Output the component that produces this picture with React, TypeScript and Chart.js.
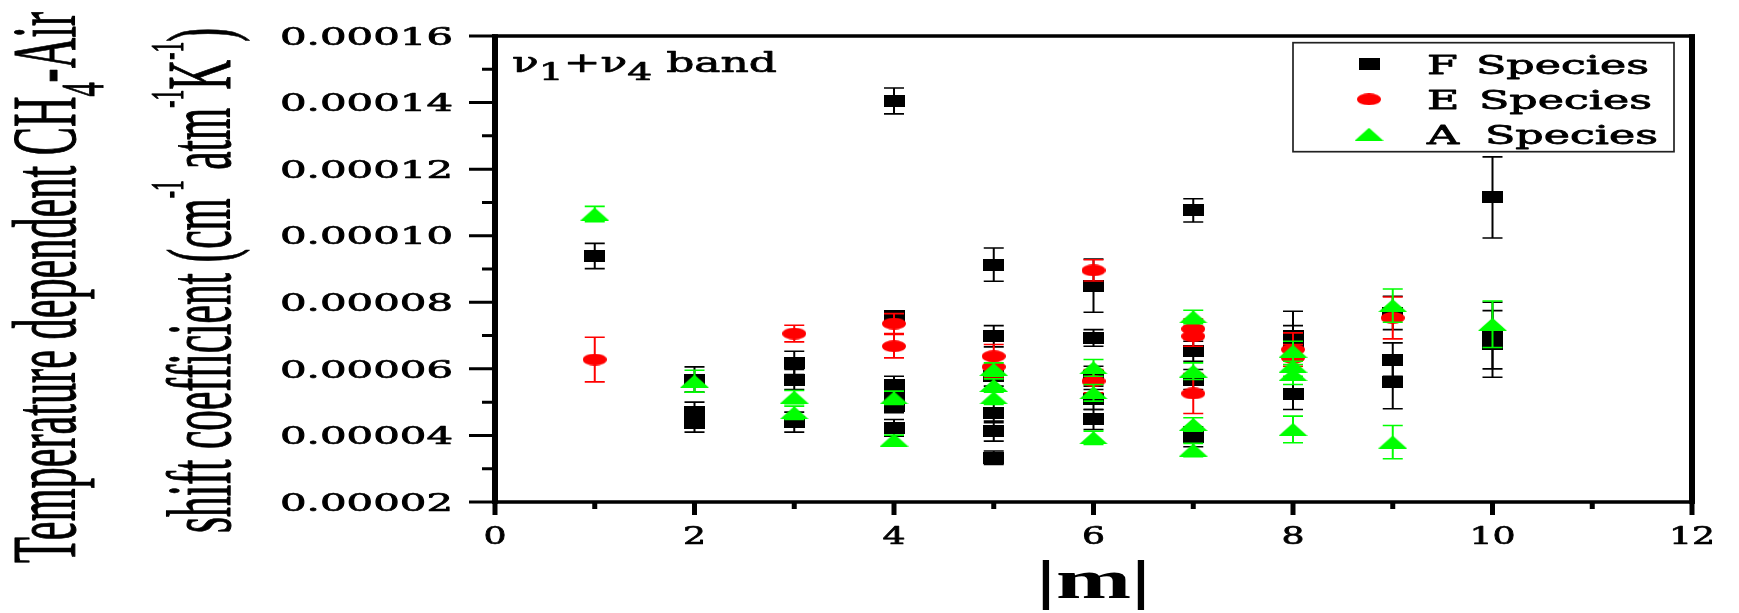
import React, { useEffect, useRef } from 'react';
import { Chart, registerables } from 'chart.js';

Chart.register(...registerables);

// ---------- data ----------
const seriesLabels = ['F Species', 'E Species', 'A Species'];

const fM = [1, 2, 2, 2, 3, 3, 3, 4, 4, 4, 4, 4, 4, 5, 5, 5, 5, 5, 5, 6, 6, 6, 6, 6, 7, 7, 7, 7, 8, 8, 8, 9, 9, 9, 10, 10, 10];
const fVal = [
  9.39e-5,
  5.68e-5, 4.70e-5, 4.36e-5,
  6.18e-5, 5.68e-5, 4.40e-5,
  14.05e-5, 7.58e-5, 5.53e-5, 5.18e-5, 4.88e-5, 4.23e-5,
  9.13e-5, 6.98e-5, 5.78e-5, 4.68e-5, 4.13e-5, 3.33e-5,
  8.50e-5, 6.93e-5, 5.78e-5, 5.08e-5, 4.48e-5,
  10.76e-5, 6.53e-5, 5.68e-5, 3.96e-5,
  6.98e-5, 6.80e-5, 5.23e-5,
  7.68e-5, 6.28e-5, 5.60e-5,
  11.15e-5, 7.00e-5, 6.75e-5,
];
const fErr = [
  0.38e-5,
  0.38e-5, 0.30e-5, 0.26e-5,
  0.35e-5, 0.30e-5, 0.30e-5,
  0.39e-5, 0.15e-5, 0.25e-5, 0.20e-5, 0.20e-5, 0.25e-5,
  0.50e-5, 0.32e-5, 0.30e-5, 0.30e-5, 0.30e-5, 0.20e-5,
  0.80e-5, 0.25e-5, 0.30e-5, 0.30e-5, 0.30e-5,
  0.35e-5, 0.30e-5, 0.30e-5, 0.30e-5,
  0.75e-5, 0.50e-5, 0.45e-5,
  0.50e-5, 0.50e-5, 0.80e-5,
  1.22e-5, 1.00e-5, 1.00e-5,
];

const eM = [1, 3, 4, 4, 5, 5, 6, 6, 7, 7, 7, 8, 8, 9];
const eVal = [
  6.28e-5,
  7.06e-5,
  7.36e-5, 6.68e-5,
  6.38e-5, 6.06e-5,
  8.96e-5, 5.63e-5,
  7.20e-5, 6.98e-5, 5.26e-5,
  6.58e-5, 6.33e-5,
  7.53e-5,
];
const eErr = [
  0.67e-5,
  0.25e-5,
  0.30e-5, 0.35e-5,
  0.35e-5, 0.30e-5,
  0.32e-5, 0.35e-5,
  0.30e-5, 0.30e-5, 0.60e-5,
  0.50e-5, 0.40e-5,
  0.63e-5,
];

const aM = [1, 2, 3, 3, 4, 4, 5, 5, 5, 6, 6, 6, 7, 7, 7, 7, 8, 8, 8, 8, 9, 9, 10];
const aVal = [
  10.65e-5,
  5.63e-5,
  5.15e-5, 4.68e-5,
  5.13e-5, 3.86e-5,
  5.98e-5, 5.50e-5, 5.13e-5,
  6.03e-5, 5.28e-5, 3.93e-5,
  7.56e-5, 5.93e-5, 4.33e-5, 3.56e-5,
  6.53e-5, 6.08e-5, 5.83e-5, 4.18e-5,
  7.90e-5, 3.80e-5,
  7.34e-5,
];
const aErr = [
  0.23e-5,
  0.33e-5,
  0.20e-5, 0.20e-5,
  0.20e-5, 0.15e-5,
  0.20e-5, 0.20e-5, 0.20e-5,
  0.25e-5, 0.25e-5, 0.20e-5,
  0.20e-5, 0.25e-5, 0.20e-5, 0.20e-5,
  0.30e-5, 0.30e-5, 0.30e-5, 0.40e-5,
  0.50e-5, 0.50e-5,
  0.70e-5,
];

const xTickValues = [0, 2, 4, 6, 8, 10, 12];
const xTickLabels = ['0', '2', '4', '6', '8', '10', '12'];
const xMinorValues = [1, 3, 5, 7, 9, 11];
const yTickValues = [2e-5, 4e-5, 6e-5, 8e-5, 10e-5, 12e-5, 14e-5, 16e-5];
const yTickLabels = ['0.00002', '0.00004', '0.00006', '0.00008', '0.00010', '0.00012', '0.00014', '0.00016'];
const yMinorValues = [3e-5, 5e-5, 7e-5, 9e-5, 11e-5, 13e-5, 15e-5];

const colors = ['#000000', '#ff0000', '#00ff00'];
const errArrays = [fErr, eErr, aErr];

// ---------- helpers ----------
type Run = { text: string; font: string; dy?: number };

function makeMarker(kind: string, color: string, w: number, h: number) {
  const c = document.createElement('canvas');
  c.width = w;
  c.height = h;
  const g = c.getContext('2d') as CanvasRenderingContext2D;
  g.fillStyle = color;
  if (kind === 'rect') {
    g.fillRect(0, 0, w, h);
  } else if (kind === 'ellipse') {
    g.beginPath();
    g.ellipse(w / 2, h / 2, w / 2, h / 2, 0, 0, Math.PI * 2);
    g.fill();
  } else {
    g.beginPath();
    g.moveTo(w / 2, 0);
    g.lineTo(w, h);
    g.lineTo(0, h);
    g.closePath();
    g.fill();
  }
  return c;
}

function drawRuns(
  ctx: CanvasRenderingContext2D,
  runs: Run[],
  x: number,
  y: number,
  length: number,
  rotate: boolean,
  stretchX: number,
  weight: number
) {
  let W = 0;
  const widths = runs.map((r) => {
    ctx.font = r.font;
    const w = ctx.measureText(r.text).width;
    W += w;
    return w;
  });
  ctx.save();
  ctx.translate(x, y);
  if (rotate) {
    ctx.scale(stretchX, 1);
    ctx.rotate(-Math.PI / 2);
  }
  ctx.scale(length / W, 1);
  ctx.textAlign = 'left';
  ctx.textBaseline = 'alphabetic';
  ctx.lineWidth = weight;
  ctx.lineJoin = 'round';
  let cx = 0;
  runs.forEach((r, i) => {
    ctx.font = r.font;
    ctx.fillText(r.text, cx, r.dy || 0);
    if (weight > 0) ctx.strokeText(r.text, cx, r.dy || 0);
    cx += widths[i];
  });
  ctx.restore();
}

function drawStretched(
  ctx: CanvasRenderingContext2D,
  text: string,
  font: string,
  x: number,
  y: number,
  sx: number,
  align: CanvasTextAlign,
  weight: number
) {
  ctx.save();
  ctx.font = font;
  ctx.translate(x, y);
  ctx.scale(sx, 1);
  ctx.textAlign = align;
  ctx.textBaseline = 'alphabetic';
  ctx.lineWidth = weight;
  ctx.lineJoin = 'round';
  ctx.fillText(text, 0, 0);
  if (weight > 0) ctx.strokeText(text, 0, 0);
  ctx.restore();
}

const SERIF_W = '"DejaVu Serif", serif';
const TIMES = '"Liberation Serif", "Times New Roman", serif';

export default function App() {
  const ref = useRef<HTMLCanvasElement | null>(null);

  useEffect(() => {
    if (!ref.current) return;
    const markers = [
      makeMarker('rect', colors[0], 21, 12),
      makeMarker('ellipse', colors[1], 24, 12),
      makeMarker('tri', colors[2], 29, 13),
    ];

    const errorBarPlugin = {
      id: 'errorBars',
      beforeDatasetDraw(chart: any, args: any) {
        const idx = args.index;
        const meta = args.meta;
        const ds = chart.data.datasets[idx];
        const errs = errArrays[idx];
        const ys = chart.scales.y;
        const ctx: CanvasRenderingContext2D = chart.ctx;
        ctx.save();
        ctx.strokeStyle = colors[idx];
        meta.data.forEach((pt: any, i: number) => {
          const v = ds.data[i].y;
          const e = errs[i];
          const yt = ys.getPixelForValue(v + e);
          const yb = ys.getPixelForValue(v - e);
          const x = pt.x;
          ctx.lineWidth = 2;
          ctx.beginPath();
          ctx.moveTo(x, yt);
          ctx.lineTo(x, yb);
          ctx.stroke();
          ctx.lineWidth = 1.6;
          ctx.beginPath();
          ctx.moveTo(x - 10, yt);
          ctx.lineTo(x + 10, yt);
          ctx.moveTo(x - 10, yb);
          ctx.lineTo(x + 10, yb);
          ctx.stroke();
        });
        ctx.restore();
      },
    };

    const decorPlugin = {
      id: 'decor',
      afterDraw(chart: any) {
        const ctx: CanvasRenderingContext2D = chart.ctx;
        const { left, right, top, bottom } = chart.chartArea;
        const xs = chart.scales.x;
        const ys = chart.scales.y;
        ctx.save();
        ctx.fillStyle = '#000';
        ctx.strokeStyle = '#000';
        ctx.lineCap = 'butt';

        // frame
        ctx.lineWidth = 3.5;
        ctx.beginPath();
        ctx.moveTo(left - 3, top);
        ctx.lineTo(right + 3, top);
        ctx.moveTo(left - 3, bottom);
        ctx.lineTo(right + 3, bottom);
        ctx.stroke();
        ctx.lineWidth = 6;
        ctx.beginPath();
        ctx.moveTo(left, top - 1.75);
        ctx.lineTo(left, bottom + 1.75);
        ctx.moveTo(right, top - 1.75);
        ctx.lineTo(right, bottom + 1.75);
        ctx.stroke();

        // y ticks
        ctx.lineWidth = 3;
        ctx.beginPath();
        yTickValues.forEach((v) => {
          const y = ys.getPixelForValue(v);
          ctx.moveTo(left - 26, y);
          ctx.lineTo(left, y);
        });
        yMinorValues.forEach((v) => {
          const y = ys.getPixelForValue(v);
          ctx.moveTo(left - 13, y);
          ctx.lineTo(left, y);
        });
        ctx.stroke();

        // x ticks
        ctx.lineWidth = 5;
        ctx.beginPath();
        xTickValues.forEach((v) => {
          const x = xs.getPixelForValue(v);
          ctx.moveTo(x, bottom);
          ctx.lineTo(x, bottom + 13);
        });
        xMinorValues.forEach((v) => {
          const x = xs.getPixelForValue(v);
          ctx.moveTo(x, bottom);
          ctx.lineTo(x, bottom + 7);
        });
        ctx.stroke();

        // y tick labels
        const yFont = `24px ${SERIF_W}`;
        ctx.font = yFont;
        const ySx = 173 / ctx.measureText(yTickLabels[yTickLabels.length - 1]).width;
        yTickValues.forEach((v, i) => {
          const y = ys.getPixelForValue(v);
          drawStretched(ctx, yTickLabels[i], yFont, left - 42, y + 8.7, ySx, 'right', 0.7);
        });

        // x tick labels
        const xFont = `25px ${SERIF_W}`;
        xTickValues.forEach((v, i) => {
          const x = xs.getPixelForValue(v);
          drawStretched(ctx, xTickLabels[i], xFont, x, bottom + 42, 1.45, 'center', 0.7);
        });

        // x title
        drawStretched(ctx, '|m|', `bold 54px ${TIMES}`, (left + right) / 2, bottom + 96, 1.67, 'center', 0);

        // y title (two rotated lines)
        const T42 = `42px ${TIMES}`;
        const T28 = `28px ${TIMES}`;
        const T22 = `22px ${TIMES}`;
        drawRuns(
          ctx,
          [
            { text: 'Temperature dependent CH', font: T42 },
            { text: '4', font: T28, dy: 13 },
            { text: '-Air', font: T42 },
          ],
          75,
          563,
          551,
          true,
          2.15,
          0.5
        );
        drawRuns(
          ctx,
          [
            { text: 'shift coefficient (cm', font: T42 },
            { text: '-1', font: T22, dy: -22 },
            { text: ' atm', font: T42 },
            { text: '-1', font: T22, dy: -22 },
            { text: 'K', font: T42 },
            { text: '-1', font: T22, dy: -22 },
            { text: ')', font: T42 },
          ],
          230,
          533,
          505,
          true,
          2.15,
          0.5
        );

        // band annotation
        const S28 = `28px ${SERIF_W}`;
        const S25 = `25px ${SERIF_W}`;
        drawRuns(
          ctx,
          [
            { text: '\u03bd', font: S28 },
            { text: '1', font: S25, dy: 8 },
            { text: '+', font: S28 },
            { text: '\u03bd', font: S28 },
            { text: '4', font: S25, dy: 8 },
            { text: ' band', font: S28 },
          ],
          left + 17,
          top + 36,
          265,
          false,
          1,
          0.7
        );

        // legend
        const bx = right - 399;
        const by = top + 6.7;
        const bw = 381;
        const bh = 109;
        ctx.fillStyle = '#ffffff';
        ctx.fillRect(bx, by, bw, bh);
        ctx.strokeStyle = '#222';
        ctx.lineWidth = 1.7;
        ctx.strokeRect(bx, by, bw, bh);
        ctx.fillStyle = '#000';
        ctx.strokeStyle = '#000';
        const lFont = `26px ${SERIF_W}`;
        ctx.font = lFont;
        const lSx = 173 / ctx.measureText('Species').width;
        const speciesX = [1476, 1479, 1485];
        seriesLabels.forEach((lab, i) => {
          const cy = by + 21.6 + i * 35;
          const m = markers[i];
          ctx.drawImage(m, bx + 76 - m.width / 2, cy - m.height / 2);
          const parts = lab.split(' ');
          drawStretched(ctx, parts[0], lFont, bx + 134, cy + 9.4, lSx, 'left', 0.8);
          drawStretched(ctx, parts[1], lFont, speciesX[i] - 1293 + bx, cy + 9.4, lSx, 'left', 0.8);
        });

        ctx.restore();
      },
    };

    const mk = (ms: number[], vs: number[]) => ms.map((m, i) => ({ x: m, y: vs[i] }));

    const chart = new Chart(ref.current, {
      type: 'scatter',
      data: {
        datasets: [
          { label: seriesLabels[0], data: mk(fM, fVal), pointStyle: markers[0], pointRadius: 10, order: 3 },
          { label: seriesLabels[1], data: mk(eM, eVal), pointStyle: markers[1], pointRadius: 10, order: 2 },
          { label: seriesLabels[2], data: mk(aM, aVal), pointStyle: markers[2], pointRadius: 10, order: 1 },
        ] as any,
      },
      options: {
        animation: false,
        responsive: false,
        events: [],
        layout: { padding: { left: 495, right: 47, top: 36, bottom: 111 } },
        scales: {
          x: { type: 'linear', min: 0, max: 12, display: false },
          y: { type: 'linear', min: 2e-5, max: 1.6e-4, display: false },
        },
        plugins: {
          legend: { display: false },
          tooltip: { enabled: false },
        },
      },
      plugins: [errorBarPlugin, decorPlugin],
    } as any);

    return () => chart.destroy();
  }, []);

  return (
    <div style={{ position: 'fixed', left: 0, top: 0, width: 1739, height: 613, background: '#fff' }}>
      <canvas ref={ref} width={1739} height={613} style={{ display: 'block' }} />
    </div>
  );
}
